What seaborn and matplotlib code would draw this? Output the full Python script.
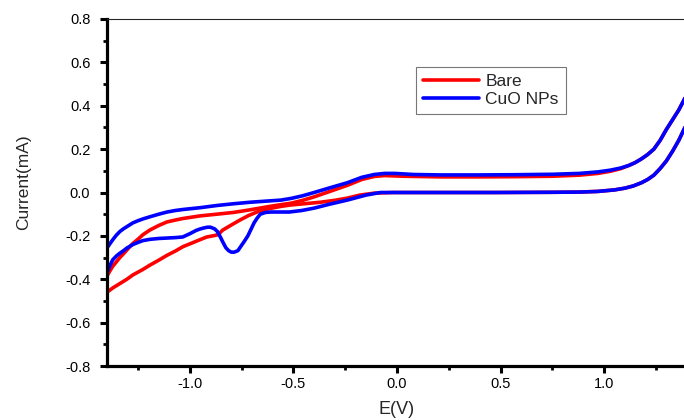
import numpy as np
import pandas as pd
import matplotlib
matplotlib.use("Agg")
import matplotlib.pyplot as plt
import seaborn as sns
from matplotlib.ticker import MultipleLocator

# ---- data (E in V, current in mA) ----
# Bare electrode, lower (cathodic) branch
bare_lower_E = [-1.40, -1.372, -1.338, -1.304, -1.275, -1.227, -1.193, -1.15, -1.111, -1.07,
                -1.034, -0.99, -0.952, -0.918, -0.89, -0.87, -0.855, -0.841, -0.80, -0.758,
                -0.716, -0.676, -0.62, -0.56, -0.517, -0.45, -0.37, -0.30, -0.24, -0.18,
                -0.11, -0.02, 0.21, 0.48, 0.75, 0.88, 0.97, 1.05, 1.10, 1.14, 1.18,
                1.21, 1.24, 1.27, 1.30, 1.33, 1.36, 1.39]
bare_lower_I = [-0.46, -0.44, -0.42, -0.40, -0.38, -0.355, -0.335, -0.312, -0.29, -0.27,
                -0.25, -0.233, -0.218, -0.205, -0.20, -0.196, -0.186, -0.173, -0.15, -0.127,
                -0.106, -0.09, -0.075, -0.064, -0.058, -0.052, -0.045, -0.036, -0.026, -0.012,
                -0.003, 0.0, 0.0, 0.0, 0.001, 0.002, 0.005, 0.012, 0.02, 0.03, 0.045,
                0.06, 0.08, 0.11, 0.145, 0.19, 0.24, 0.30]

# Bare electrode, upper (anodic) branch
bare_upper_E = [-1.40, -1.385, -1.372, -1.355, -1.338, -1.32, -1.304, -1.29, -1.275, -1.25,
                -1.227, -1.193, -1.15, -1.111, -1.07, -1.034, -0.952, -0.87, -0.79, -0.71,
                -0.62, -0.56, -0.51, -0.455, -0.40, -0.33, -0.24, -0.17, -0.11, -0.06,
                0.03, 0.21, 0.39, 0.57, 0.75, 0.88, 0.97, 1.03, 1.08, 1.12, 1.15,
                1.18, 1.21, 1.24, 1.27, 1.30, 1.33, 1.36, 1.39]
bare_upper_I = [-0.385, -0.36, -0.34, -0.32, -0.30, -0.282, -0.265, -0.25, -0.235, -0.215,
                -0.195, -0.173, -0.152, -0.136, -0.127, -0.12, -0.108, -0.10, -0.092, -0.08,
                -0.065, -0.056, -0.049, -0.036, -0.02, 0.003, 0.033, 0.06, 0.074, 0.078,
                0.075, 0.072, 0.072, 0.073, 0.075, 0.08, 0.088, 0.098, 0.11, 0.125, 0.138,
                0.155, 0.175, 0.20, 0.24, 0.29, 0.335, 0.38, 0.435]

# CuO NPs, lower (cathodic) branch with the reduction peak
cuo_lower_E = [-1.40, -1.385, -1.372, -1.355, -1.338, -1.32, -1.304, -1.275, -1.25, -1.227,
               -1.193, -1.15, -1.111, -1.07, -1.034, -1.00, -0.97, -0.95, -0.93, -0.915,
               -0.90, -0.88, -0.867, -0.853, -0.84, -0.826, -0.813, -0.80, -0.786, -0.768,
               -0.755, -0.737, -0.72, -0.705, -0.69, -0.675, -0.66, -0.635, -0.61, -0.56,
               -0.52, -0.46, -0.40, -0.33, -0.24, -0.15, -0.08, 0.03, 0.21, 0.48,
               0.75, 0.88, 0.97, 1.05, 1.10, 1.14, 1.18, 1.21, 1.24, 1.27,
               1.30, 1.33, 1.36, 1.39]
cuo_lower_I = [-0.37, -0.335, -0.31, -0.293, -0.28, -0.268, -0.256, -0.24, -0.23, -0.222,
               -0.216, -0.212, -0.21, -0.208, -0.205, -0.19, -0.175, -0.168, -0.163, -0.16,
               -0.16, -0.168, -0.18, -0.205, -0.23, -0.255, -0.268, -0.275, -0.275, -0.268,
               -0.25, -0.225, -0.20, -0.17, -0.14, -0.118, -0.10, -0.092, -0.09, -0.09,
               -0.09, -0.083, -0.072, -0.055, -0.035, -0.012, 0.0, 0.0, 0.0, 0.0,
               0.001, 0.002, 0.005, 0.012, 0.02, 0.03, 0.045, 0.06, 0.08, 0.11,
               0.145, 0.19, 0.24, 0.30]

# CuO NPs, upper (anodic) branch
cuo_upper_E = [-1.40, -1.385, -1.37, -1.355, -1.338, -1.32, -1.30, -1.275, -1.25, -1.227,
               -1.193, -1.15, -1.11, -1.07, -1.03, -0.95, -0.87, -0.79, -0.71, -0.62,
               -0.56, -0.51, -0.455, -0.40, -0.33, -0.24, -0.17, -0.11, -0.06, -0.01,
               0.08, 0.21, 0.39, 0.57, 0.75, 0.88, 0.97, 1.03, 1.08, 1.12,
               1.15, 1.18, 1.21, 1.24, 1.27, 1.30, 1.33, 1.36, 1.39]
cuo_upper_I = [-0.256, -0.235, -0.215, -0.197, -0.18, -0.167, -0.155, -0.14, -0.13, -0.122,
               -0.112, -0.10, -0.09, -0.083, -0.078, -0.07, -0.06, -0.052, -0.045, -0.039,
               -0.035, -0.027, -0.015, 0.0, 0.02, 0.045, 0.07, 0.083, 0.088, 0.088,
               0.083, 0.081, 0.081, 0.082, 0.084, 0.088, 0.095, 0.103, 0.113, 0.125,
               0.138, 0.155, 0.175, 0.20, 0.24, 0.29, 0.335, 0.38, 0.435]

series_names = ["Bare", "CuO NPs"]
x_ticks = [-1.0, -0.5, 0.0, 0.5, 1.0]
y_ticks = [-0.8, -0.6, -0.4, -0.2, 0.0, 0.2, 0.4, 0.6, 0.8]

frames = []
for name, branch, E, I in [
    (series_names[0], "lower", bare_lower_E, bare_lower_I),
    (series_names[0], "upper", bare_upper_E, bare_upper_I),
    (series_names[1], "lower", cuo_lower_E, cuo_lower_I),
    (series_names[1], "upper", cuo_upper_E, cuo_upper_I),
]:
    frames.append(pd.DataFrame({"E": E, "I": I, "series": name, "branch": branch}))
df = pd.concat(frames, ignore_index=True)

sns.set_style("ticks")
plt.rcParams["font.family"] = ["Liberation Sans", "DejaVu Sans"]

fig = plt.figure(figsize=(6.84, 4.2), dpi=100)
ax = fig.add_axes([107 / 684, 1 - 366 / 420, 580 / 684, 347 / 420])

sns.lineplot(data=df, x="E", y="I", hue="series", units="branch",
             estimator=None, sort=False, palette={"Bare": "#ff0000", "CuO NPs": "#0000ff"},
             linewidth=2.6, solid_joinstyle="round", solid_capstyle="round", ax=ax)

ax.set_xlim(-1.4, 1.4)
ax.set_ylim(-0.8, 0.8)
ax.set_xticks(x_ticks)
ax.set_yticks(y_ticks)
ax.set_xticklabels([f"{v:.1f}" for v in x_ticks])
ax.set_yticklabels([f"{v:.1f}" for v in y_ticks])
ax.xaxis.set_minor_locator(MultipleLocator(0.25))
ax.yaxis.set_minor_locator(MultipleLocator(0.1))

for side in ["left", "bottom"]:
    ax.spines[side].set_linewidth(2.3)
    ax.spines[side].set_color("black")
ax.spines["top"].set_visible(True)
ax.spines["top"].set_linewidth(0.8)
ax.spines["right"].set_visible(False)

ax.tick_params(axis="both", which="major", direction="out", length=5, width=2.2,
               labelsize=10.5, colors="black")
ax.tick_params(axis="both", which="minor", direction="out", length=3, width=2.0,
               colors="black")
ax.tick_params(axis="y", which="major", pad=7)
ax.tick_params(axis="x", which="major", pad=3)
ax.tick_params(top=False, right=False, which="both")

ax.set_xlabel("E(V)", fontsize=13, labelpad=7)
ax.set_ylabel("Current(mA)", fontsize=12.5)
ax.yaxis.set_label_coords(-0.131, 0.53)

handles, labels = ax.get_legend_handles_labels()
leg = ax.legend(handles, labels, loc="upper left", bbox_to_anchor=(309 / 580, 0.862),
                borderaxespad=0, frameon=True, fancybox=False, fontsize=12.5,
                handlelength=3.2, handletextpad=0.4, borderpad=0.4, labelspacing=0.15)
leg.get_frame().set_edgecolor("#555555")
leg.get_frame().set_linewidth(0.8)
for h in leg.get_lines():
    h.set_linewidth(2.6)

fig.savefig("out.png", dpi=100)
